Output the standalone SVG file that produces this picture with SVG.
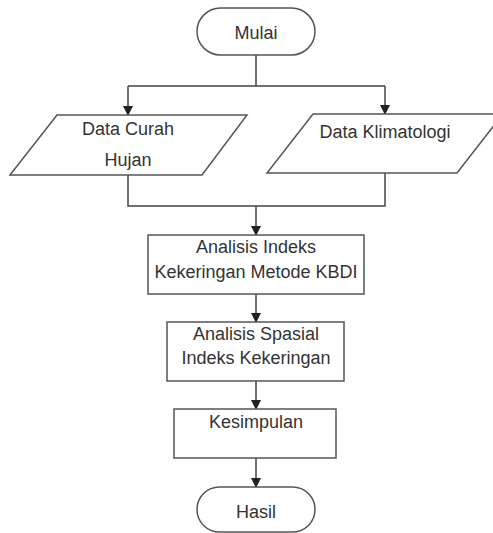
<svg xmlns="http://www.w3.org/2000/svg" width="493" height="533" viewBox="0 0 493 533">
<defs>
<style>
.s{fill:#fff;stroke:#555;stroke-width:1.5}
.c{fill:none;stroke:#444;stroke-width:1.5}
text{font-family:"Liberation Sans",Arial,sans-serif;font-size:18px;fill:#333;text-anchor:middle}
</style>
<marker id="a" markerWidth="10" markerHeight="10" refX="9" refY="5" orient="auto" markerUnits="userSpaceOnUse">
<path d="M0,0 L10,5 L0,10 Z" fill="#222"/>
</marker>
</defs>
<rect width="493" height="533" fill="#fff"/>
<g id="connectors">
<path class="c" d="M256,55 V86 M128,86 H385"/>
<path class="c" d="M128,86 V115" marker-end="url(#a)"/>
<path class="c" d="M385,86 V114" marker-end="url(#a)"/>
<path class="c" d="M128,175 V206 H385 V173"/>
<path class="c" d="M256,206 V235" marker-end="url(#a)"/>
<path class="c" d="M256,294 V322" marker-end="url(#a)"/>
<path class="c" d="M256,381 V409" marker-end="url(#a)"/>
<path class="c" d="M256,458 V487" marker-end="url(#a)"/>
</g>
<g id="mulai">
<rect class="s" x="197" y="8" width="118" height="47" rx="23.5"/>
<text x="256" y="39">Mulai</text>
</g>
<g id="data-curah-hujan">
<polygon class="s" points="57,115 247,115 202,175 10,175"/>
<text x="128" y="135">Data Curah</text>
<text x="128" y="166">Hujan</text>
</g>
<g id="data-klimatologi">
<polygon class="s" points="313,114 503,114 457,173 267,173"/>
<text x="385" y="138">Data Klimatologi</text>
</g>
<g id="analisis-kbdi">
<rect class="s" x="148" y="235" width="216" height="59"/>
<text x="256" y="253">Analisis Indeks</text>
<text x="256" y="278">Kekeringan Metode KBDI</text>
</g>
<g id="analisis-spasial">
<rect class="s" x="167" y="322" width="177" height="59"/>
<text x="256" y="340">Analisis Spasial</text>
<text x="256" y="364">Indeks Kekeringan</text>
</g>
<g id="kesimpulan">
<rect class="s" x="174" y="409" width="162" height="49"/>
<text x="256" y="428">Kesimpulan</text>
</g>
<g id="hasil">
<rect class="s" x="197" y="487" width="118" height="45" rx="22.5"/>
<text x="256" y="518">Hasil</text>
</g>
</svg>
